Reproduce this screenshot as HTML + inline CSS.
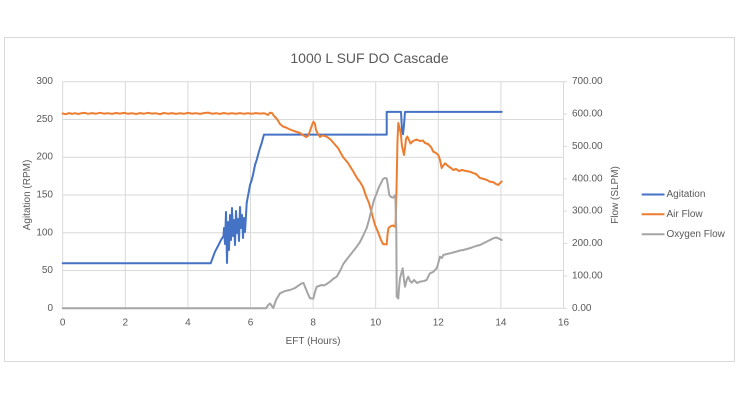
<!DOCTYPE html>
<html><head><meta charset="utf-8"><style>
html,body{margin:0;padding:0;background:#fff;}
svg{display:block;font-family:"Liberation Sans",sans-serif;}
</style></head><body>
<svg width="740" height="400" viewBox="0 0 740 400" xmlns="http://www.w3.org/2000/svg">
<rect x="0" y="0" width="740" height="400" fill="#fff"/>
<rect x="4.5" y="37.5" width="730" height="324" fill="#fff" stroke="#d9d9d9" stroke-width="1"/>
<text x="369.5" y="58" font-size="14" fill="#595959" text-anchor="middle" dominant-baseline="central">1000 L SUF DO Cascade</text>
<g stroke="#d9d9d9" stroke-width="1" fill="none">
<line x1="62.7" y1="81.7" x2="563.5" y2="81.7"/>
<line x1="62.7" y1="119.5" x2="563.5" y2="119.5"/>
<line x1="62.7" y1="157.2" x2="563.5" y2="157.2"/>
<line x1="62.7" y1="195" x2="563.5" y2="195"/>
<line x1="62.7" y1="232.8" x2="563.5" y2="232.8"/>
<line x1="62.7" y1="270.5" x2="563.5" y2="270.5"/>
<line x1="62.7" y1="308.3" x2="563.5" y2="308.3"/>
<line x1="62.7" y1="81.7" x2="62.7" y2="308.3"/>
<line x1="125.3" y1="81.7" x2="125.3" y2="308.3"/>
<line x1="187.9" y1="81.7" x2="187.9" y2="308.3"/>
<line x1="250.5" y1="81.7" x2="250.5" y2="308.3"/>
<line x1="313.1" y1="81.7" x2="313.1" y2="308.3"/>
<line x1="375.7" y1="81.7" x2="375.7" y2="308.3"/>
<line x1="438.3" y1="81.7" x2="438.3" y2="308.3"/>
<line x1="500.9" y1="81.7" x2="500.9" y2="308.3"/>
<line x1="563.5" y1="81.7" x2="563.5" y2="308.3"/>
<line x1="563.5" y1="81.7" x2="567" y2="81.7"/>
<line x1="563.5" y1="114.1" x2="567" y2="114.1"/>
<line x1="563.5" y1="146.4" x2="567" y2="146.4"/>
<line x1="563.5" y1="178.8" x2="567" y2="178.8"/>
<line x1="563.5" y1="211.2" x2="567" y2="211.2"/>
<line x1="563.5" y1="243.5" x2="567" y2="243.5"/>
<line x1="563.5" y1="275.9" x2="567" y2="275.9"/>
<line x1="563.5" y1="308.3" x2="567" y2="308.3"/>
</g>
<g font-size="10" fill="#595959" text-anchor="end" dominant-baseline="central">
<text x="53" y="81.7">300</text>
<text x="53" y="119.5">250</text>
<text x="53" y="157.2">200</text>
<text x="53" y="195">150</text>
<text x="53" y="232.8">100</text>
<text x="53" y="270.5">50</text>
<text x="53" y="308.3">0</text>
</g>
<g font-size="10" fill="#595959" text-anchor="start" dominant-baseline="central">
<text x="572" y="81.7">700.00</text>
<text x="572" y="114.1">600.00</text>
<text x="572" y="146.4">500.00</text>
<text x="572" y="178.8">400.00</text>
<text x="572" y="211.2">300.00</text>
<text x="572" y="243.5">200.00</text>
<text x="572" y="275.9">100.00</text>
<text x="572" y="308.3">0.00</text>
</g>
<g font-size="10" fill="#595959" text-anchor="middle" dominant-baseline="central">
<text x="62.7" y="323">0</text>
<text x="125.3" y="323">2</text>
<text x="187.9" y="323">4</text>
<text x="250.5" y="323">6</text>
<text x="313.1" y="323">8</text>
<text x="375.7" y="323">10</text>
<text x="438.3" y="323">12</text>
<text x="500.9" y="323">14</text>
<text x="563.5" y="323">16</text>
<text x="313" y="341.5">EFT (Hours)</text>
<text transform="translate(27.5,195) rotate(-90)" x="0" y="0">Agitation (RPM)</text>
<text transform="translate(615.5,195) rotate(-90)" x="0" y="0">Flow (SLPM)</text>
</g>
<g fill="none" stroke-width="2" stroke-linejoin="round" stroke-linecap="round">
<polyline stroke="#4472C4" points="62.7,263.3 210.7,263.3 213,257 215,251.7 218,246 221,240 223.5,236 224,228 225,244 226,212 227,263 228,222 229,250 230,215 231,240 232,208 233,236 234,220 235,245 236,211 237,233 238,219 239,241 240,207 241,228 242,215 243,238 244,218 245,232 246.7,203 248,196 250,185 251.7,180 253,175 255,165 256.7,160 258,155 260,148 261.7,143 263,138 264,134.6 386.7,134.6 386.7,111.9 401,111.9 402,130 403,134.3 404,125 405,111.9 501.7,111.9"/>
<polyline stroke="#ED7D31" points="62.7,113.5 66,114.2 69,113.1 72,113.9 75,113.2 78,114 81,113.3 85,112.9 88,113.8 92,113.1 96,113.7 100,112.8 104,113.6 108,113.2 112,113.9 116,113 120,113.6 124,112.9 128,113.8 132,113.2 136,114 140,113.1 144,113.7 148,112.8 152,113.6 156,113.3 160,114.1 164,113 168,113.7 172,113.1 176,113.9 180,113.2 184,113.8 188,112.9 192,113.6 196,113.2 200,113.9 204,113.1 208,112.6 212,113.7 216,113.2 220,113.9 224,113 228,113.8 232,113.2 236,113.7 240,113.1 244,113.8 248,113.2 252,113.7 256,113.1 260,113.6 264,113.2 266,114 268,115 270,112.7 272,113 274,116 277,119 280,124 283,126.5 286,127.5 290,129.5 294,131 297,132 300,133 303,135 306,137 308,136 310,131 312,125 313.5,121.7 315,124 316,130 318,134 320,137 322,135.5 325,136 328,137.5 331,140 334,143.5 338,148 343,157 348,163 353,171 357,178 360,182 363,187 366,196 369,203 372,214 375,225 378,232 381,240 383,244 386.7,244.5 387.5,235 388.5,228 391,226 393.3,225.5 395.5,227 396.5,190 397.5,140 398.3,123 399.5,128 400.7,133 402,146 404,155 405,148 406,139 407.3,136.5 409,140 410.5,143.5 413,141 416.7,139.5 420,141 423,140.5 425,143 428,144 431,147 433.3,151.7 436,153 438.3,155 440,160 441.7,168 443,166 445,163.3 448,166 451,168 453.3,170 456,169 459,171 462,170 466,171 470,171.7 473,173 476,174 480,178 484,179 487,180 490,181.7 493,182 496,184 498.3,185 500,183 501.7,181.5"/>
<polyline stroke="#A5A5A5" points="62.7,308.3 266,308.3 268.3,305 270,303.5 273.3,308 276,300 280,293.3 285,291 290,290 295,288 301.7,283.3 303.5,283 305,286.7 308,294 310,298.3 313.3,298.6 315,292 316.7,286.7 319,286 321.7,285 324,285.5 326.7,284 330,281.7 333,279 336.7,276.7 340,271 343.3,264 347,259 351,254 356.7,246.7 360,242 363,236 366.7,228 369,220 371.7,209 374,200 376.7,193.3 379,187 381.7,181.7 383,179 385,178 386.7,178.3 388,186 389.3,195 391,197 393.3,197.7 395.3,195 396.3,230 396.7,296.7 398.3,298.5 399,288 400,278.3 402.7,268.3 404,280 405,286.7 407,279 408.3,276.7 410,281 411.7,282.7 414,280 417,283 420,281.7 424,281 426.7,280 428,277 430,273.3 433,272 436.7,268.3 438,264 440,256.7 442,258 443.3,255 447,254 450,253.3 455,252 460,250.5 463.3,250 467,249 472,247.5 476,246 480,245 484,243 488,241 493.3,238.3 496,237.5 498.3,238.3 501.7,240"/>
</g>
<g stroke-width="2">
<line x1="641.7" y1="194.5" x2="664.5" y2="194.5" stroke="#4472C4"/>
<line x1="641.7" y1="214.3" x2="664.5" y2="214.3" stroke="#ED7D31"/>
<line x1="641.7" y1="234.3" x2="664.5" y2="234.3" stroke="#A5A5A5"/>
</g>
<g font-size="10" fill="#595959" dominant-baseline="central">
<text x="666.5" y="194.5">Agitation</text>
<text x="666.5" y="214.3">Air Flow</text>
<text x="666.5" y="234.3">Oxygen Flow</text>
</g>
</svg>
</body></html>
